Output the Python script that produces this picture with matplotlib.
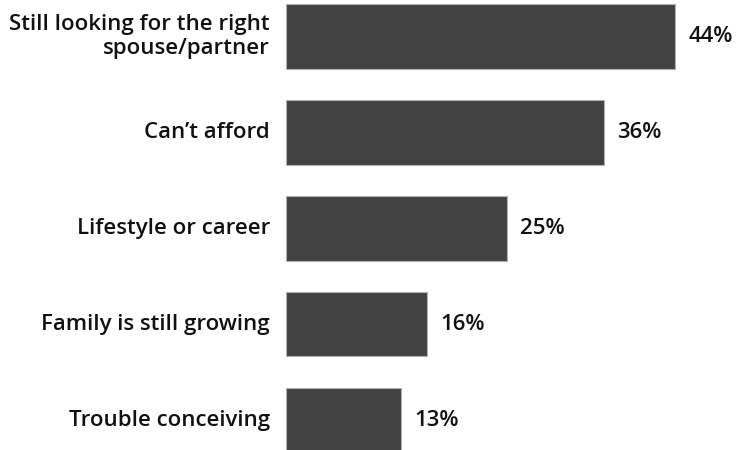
import matplotlib
matplotlib.use("Agg")
import matplotlib.pyplot as plt

categories = ["Still looking for the right\nspouse/partner", "Can\u2019t afford",
              "Lifestyle or career", "Family is still growing", "Trouble conceiving"]
values = [44, 36, 25, 16, 13]

plt.rcParams['font.family'] = ['Open Sans', 'DejaVu Sans']

fig = plt.figure(figsize=(7.37, 4.5), dpi=100)
ax = fig.add_axes([286 / 737, 0, (728 - 286) / 737, 1])

ypos = list(range(len(values)))
ax.barh(ypos, values, height=0.67, color="#424242", edgecolor="#b0b0b0", linewidth=0.8)

ax.set_xlim(0, 50)
ax.set_ylim(4.31, -0.38)

for y, v, c in zip(ypos, values, categories):
    ax.text(v + 1.5, y, f"{v}%", va="center", ha="left", fontsize=16, fontweight="semibold", color="#111111")
    ax.text(-1.8, y, c, va="center", ha="right", fontsize=16, fontweight="semibold", color="#111111",
            linespacing=1.2, clip_on=False)

ax.axis("off")
fig.savefig("out.png", dpi=100)
